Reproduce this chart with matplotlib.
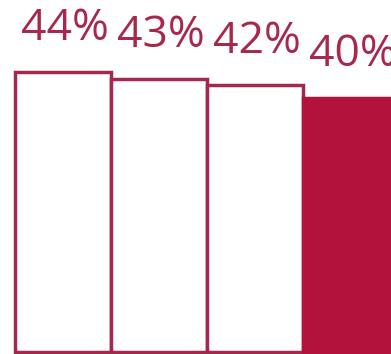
import matplotlib
matplotlib.use("Agg")
import matplotlib.pyplot as plt

categories = ["A", "B", "C", "D"]
values = [44, 43, 42, 40]
labels = ["44%", "43%", "42%", "40%"]
highlight = [False, False, False, True]

crimson = "#B3123C"
edge = "#A3284C"

fig = plt.figure(figsize=(3.91, 3.54), dpi=100)
ax = fig.add_axes([0, 0, 1, 1])

x = list(range(len(categories)))
for xi, v, lab, hi in zip(x, values, labels, highlight):
    ax.bar(xi, v, width=1.0,
           color=crimson if hi else "white",
           edgecolor=crimson if hi else edge,
           linewidth=2.5, zorder=2)
    ax.annotate(lab, (xi, v), xytext=(2, 21), textcoords="offset pixels",
                ha="center", va="bottom", color="#A8284C",
                fontsize=32, family="Open Sans")

ax.set_xlim(-0.656, 3.417)
ax.set_ylim(-0.315, 55.4)
ax.axis("off")

fig.savefig("out.png", dpi=100)
